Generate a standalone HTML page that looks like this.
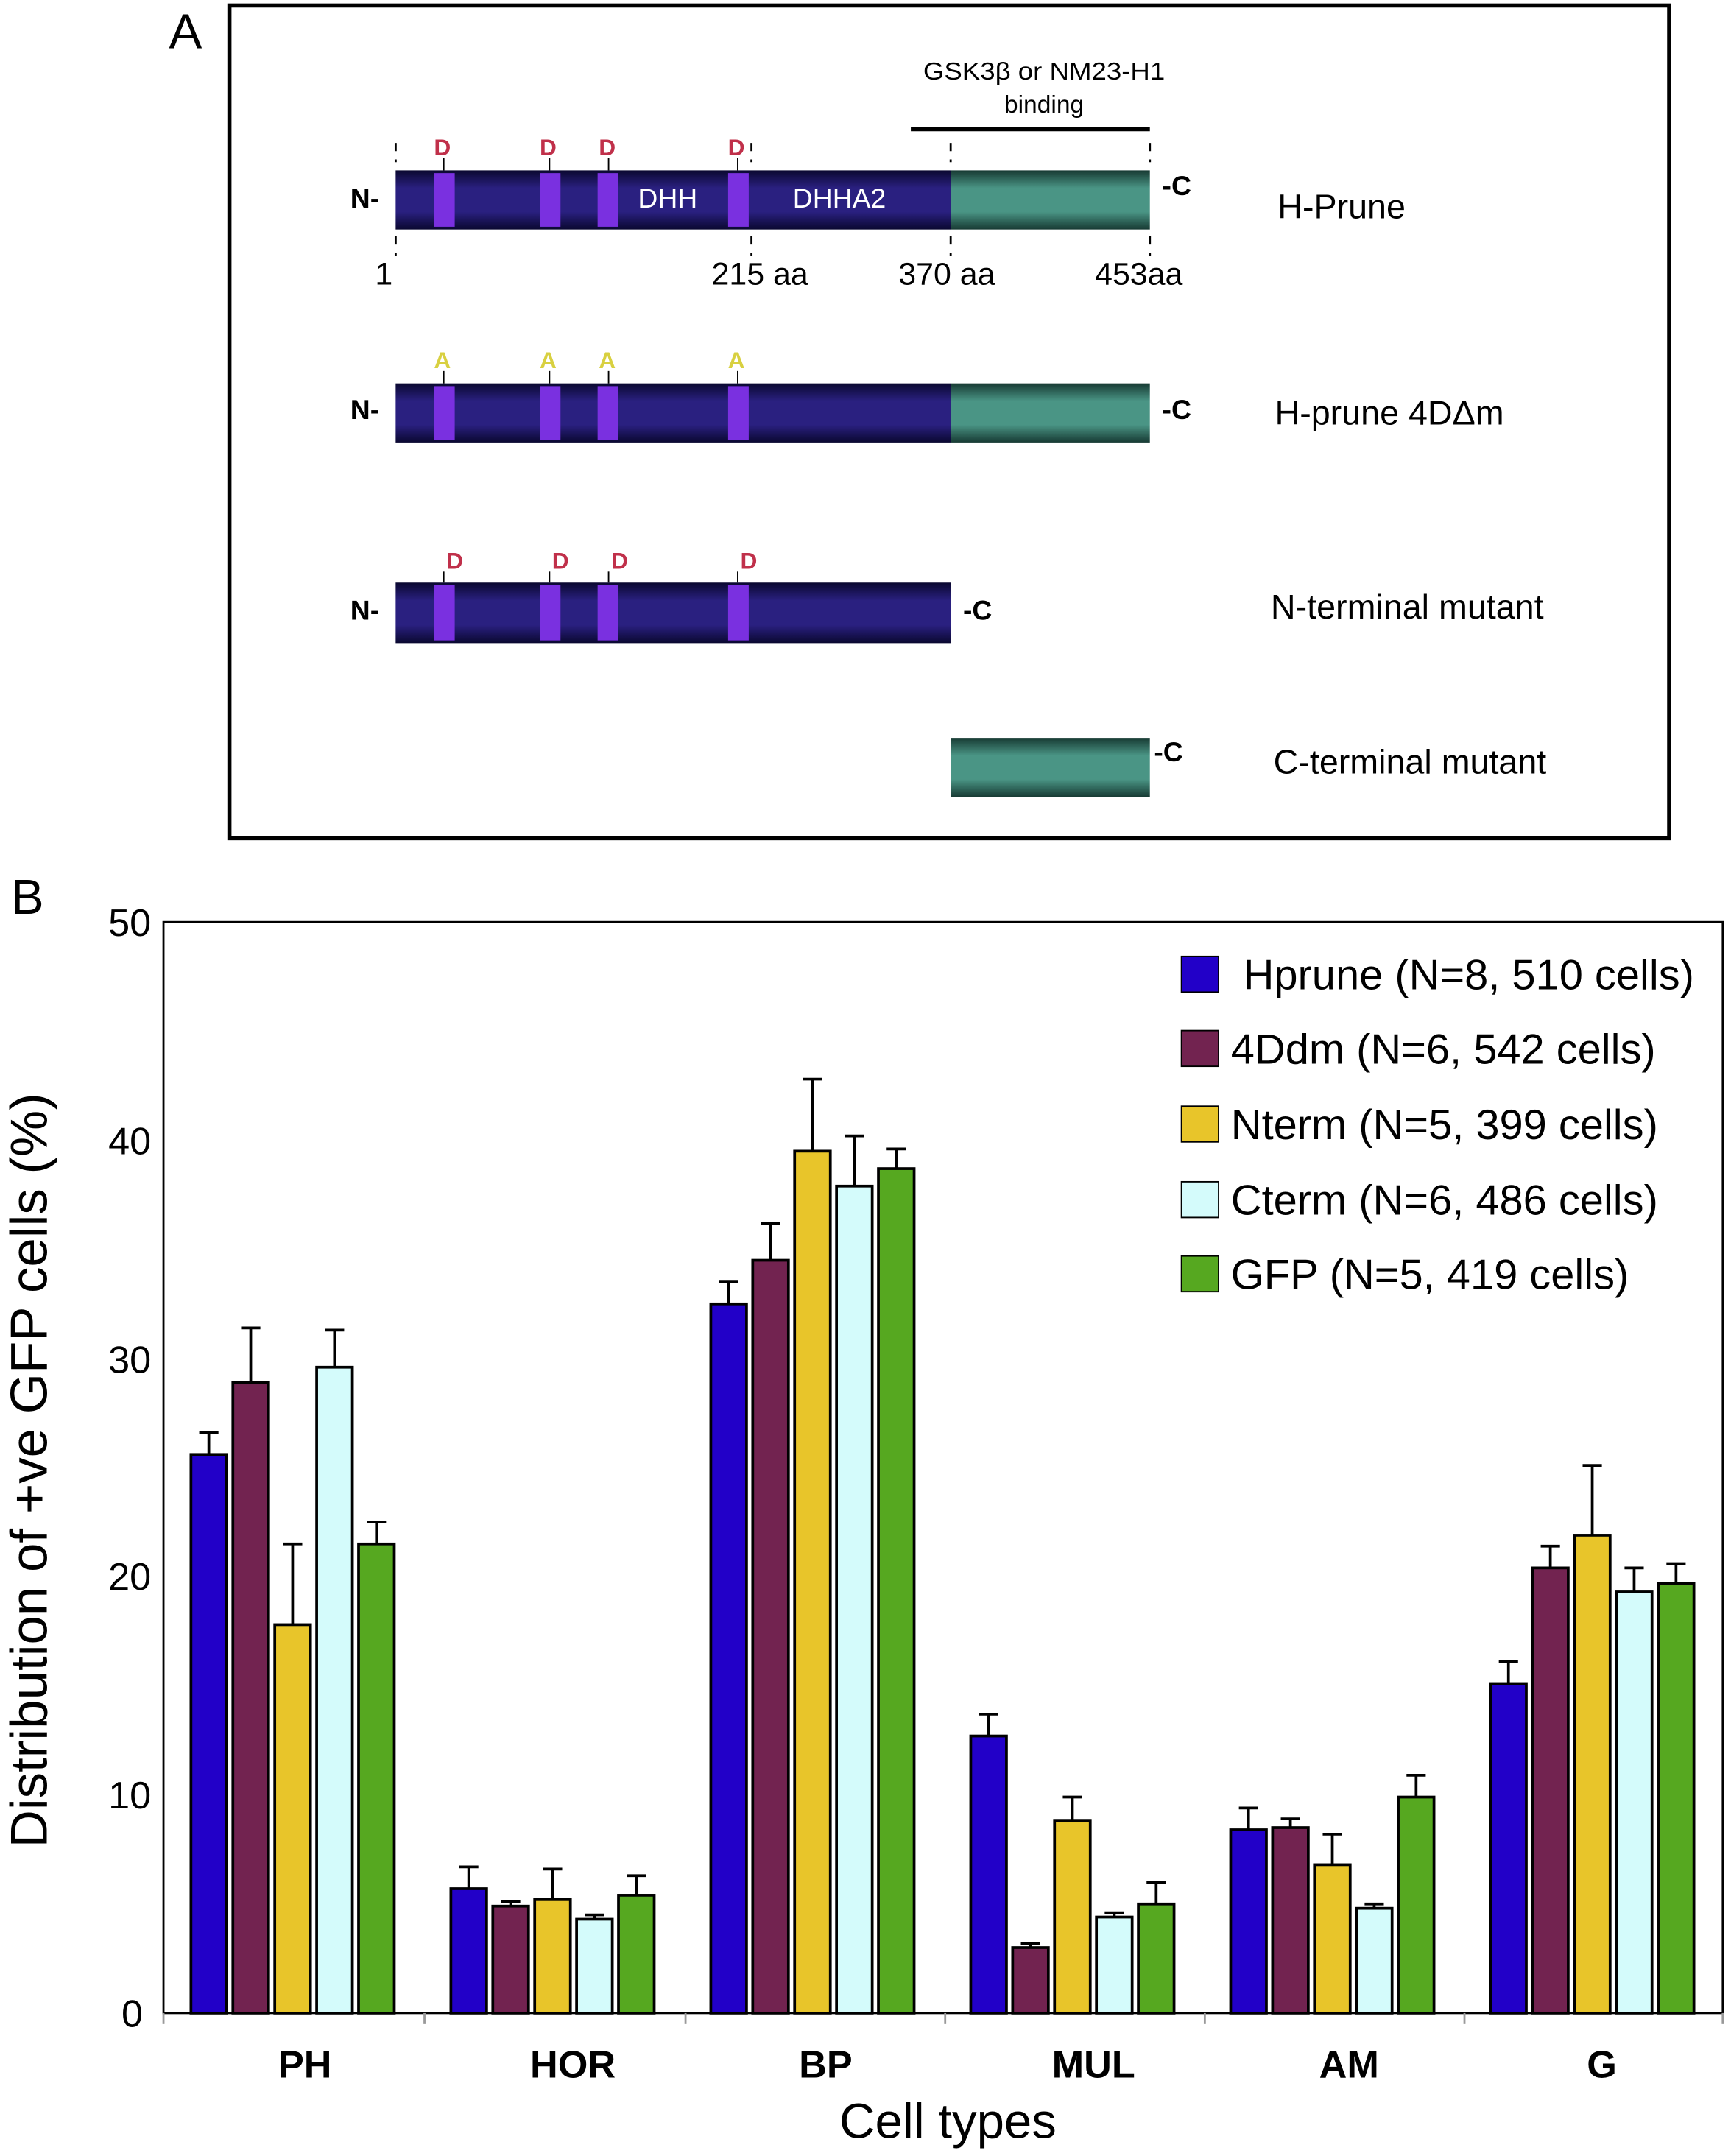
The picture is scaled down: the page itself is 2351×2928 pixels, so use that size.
<!DOCTYPE html>
<html><head><style>html,body{margin:0;padding:0;background:#fff}svg{display:block}</style></head>
<body>
<svg width="2351" height="2928" viewBox="0 0 1260 1569" preserveAspectRatio="none" xmlns="http://www.w3.org/2000/svg" font-family="Liberation Sans, sans-serif">
<defs>
<linearGradient id="bl" x1="0" y1="0" x2="0" y2="1"><stop offset="0" stop-color="#0a0830"/><stop offset="0.3" stop-color="#2a2080"/><stop offset="0.7" stop-color="#2a2080"/><stop offset="1" stop-color="#0a0830"/></linearGradient>
<linearGradient id="te" x1="0" y1="0" x2="0" y2="1"><stop offset="0" stop-color="#173a33"/><stop offset="0.3" stop-color="#4a9585"/><stop offset="0.7" stop-color="#4a9585"/><stop offset="1" stop-color="#173a33"/></linearGradient>
</defs>
<text x="123" y="35" font-size="36">A</text>
<rect x="167" y="4" width="1048" height="606" fill="none" stroke="#000" stroke-width="3"/>
<text x="760" y="58" font-size="18" text-anchor="middle" font-weight="500" textLength="176" lengthAdjust="spacingAndGlyphs">GSK3β or NM23-H1</text>
<text x="760" y="82" font-size="18" text-anchor="middle">binding</text>
<line x1="663" y1="94" x2="837" y2="94" stroke="#000" stroke-width="3"/>
<g stroke="#000" stroke-width="1.5" stroke-dasharray="6,6">
<line x1="288" y1="104" x2="288" y2="118"/><line x1="547" y1="104" x2="547" y2="118"/><line x1="692" y1="104" x2="692" y2="118"/><line x1="837" y1="104" x2="837" y2="118"/>
<line x1="288" y1="172" x2="288" y2="186"/><line x1="547" y1="172" x2="547" y2="186"/><line x1="692" y1="172" x2="692" y2="186"/><line x1="837" y1="172" x2="837" y2="186"/>
</g>
<rect x="288" y="124" width="404" height="43" fill="url(#bl)"/><rect x="692" y="124" width="145" height="43" fill="url(#te)"/>
<g fill="#7a30e0"><rect x="316" y="126" width="15" height="39"/><rect x="393" y="126" width="15" height="39"/><rect x="435" y="126" width="15" height="39"/><rect x="530" y="126" width="15" height="39"/></g>
<g fill="#c0304a" font-size="17" font-weight="bold" text-anchor="middle"><text x="322" y="113">D</text><text x="399" y="113">D</text><text x="442" y="113">D</text><text x="536" y="113">D</text></g>
<g stroke="#000"><line x1="323" y1="115" x2="323" y2="124"/><line x1="400" y1="115" x2="400" y2="124"/><line x1="443" y1="115" x2="443" y2="124"/><line x1="537" y1="115" x2="537" y2="124"/></g>
<text x="486" y="151" font-size="20" fill="#fff" text-anchor="middle">DHH</text>
<text x="611" y="151" font-size="20" fill="#fff" text-anchor="middle">DHHA2</text>
<text x="255" y="151" font-size="20" font-weight="bold">N-</text><text x="846" y="142" font-size="20" font-weight="bold">-C</text>
<g font-size="23"><text x="273" y="207">1</text><text x="518" y="207">215 aa</text><text x="654" y="207">370 aa</text><text x="797" y="207">453aa</text></g>
<g font-size="25" font-weight="500">
<text x="930" y="159">H-Prune</text>
<text x="928" y="309">H-prune 4DΔm</text>
<text x="925" y="450">N-terminal mutant</text>
<text x="927" y="563">C-terminal mutant</text>
</g>
<rect x="288" y="279" width="404" height="43" fill="url(#bl)"/><rect x="692" y="279" width="145" height="43" fill="url(#te)"/>
<g fill="#7a30e0"><rect x="316" y="281" width="15" height="39"/><rect x="393" y="281" width="15" height="39"/><rect x="435" y="281" width="15" height="39"/><rect x="530" y="281" width="15" height="39"/></g>
<g fill="#d8d040" font-size="17" font-weight="bold" text-anchor="middle"><text x="322" y="268">A</text><text x="399" y="268">A</text><text x="442" y="268">A</text><text x="536" y="268">A</text></g>
<g stroke="#000"><line x1="323" y1="270" x2="323" y2="279"/><line x1="400" y1="270" x2="400" y2="279"/><line x1="443" y1="270" x2="443" y2="279"/><line x1="537" y1="270" x2="537" y2="279"/></g>
<text x="255" y="305" font-size="20" font-weight="bold">N-</text><text x="846" y="305" font-size="20" font-weight="bold">-C</text>
<rect x="288" y="424" width="404" height="44" fill="url(#bl)"/>
<g fill="#7a30e0"><rect x="316" y="426" width="15" height="40"/><rect x="393" y="426" width="15" height="40"/><rect x="435" y="426" width="15" height="40"/><rect x="530" y="426" width="15" height="40"/></g>
<g fill="#c0304a" font-size="17" font-weight="bold" text-anchor="middle"><text x="331" y="414">D</text><text x="408" y="414">D</text><text x="451" y="414">D</text><text x="545" y="414">D</text></g>
<g stroke="#000"><line x1="323" y1="416" x2="323" y2="424"/><line x1="400" y1="416" x2="400" y2="424"/><line x1="443" y1="416" x2="443" y2="424"/><line x1="537" y1="416" x2="537" y2="424"/></g>
<text x="255" y="451" font-size="20" font-weight="bold">N-</text><text x="701" y="451" font-size="20" font-weight="bold">-C</text>
<rect x="692" y="537" width="145" height="43" fill="url(#te)"/>
<text x="840" y="554" font-size="20" font-weight="bold">-C</text>

<text x="8" y="665" font-size="36">B</text>
<rect x="119" y="671" width="1135" height="794" fill="none" stroke="#000" stroke-width="1.5"/>
<g font-size="28" text-anchor="end"><text x="110" y="681">50</text><text x="110" y="840">40</text><text x="110" y="999">30</text><text x="110" y="1157">20</text><text x="110" y="1316">10</text><text x="104" y="1475">0</text></g>
<text transform="translate(34,1070) rotate(-90)" font-size="38" text-anchor="middle">Distribution of +ve GFP cells (%)</text>
<g stroke="#999" stroke-width="1.5"><line x1="119" y1="1465" x2="119" y2="1473"/><line x1="309" y1="1465" x2="309" y2="1473"/><line x1="499" y1="1465" x2="499" y2="1473"/><line x1="688" y1="1465" x2="688" y2="1473"/><line x1="877" y1="1465" x2="877" y2="1473"/><line x1="1066" y1="1465" x2="1066" y2="1473"/><line x1="1254" y1="1465" x2="1254" y2="1473"/></g>
<g font-size="28" font-weight="bold" text-anchor="middle"><text x="222" y="1512">PH</text><text x="417" y="1512">HOR</text><text x="601" y="1512">BP</text><text x="796" y="1512">MUL</text><text x="982" y="1512">AM</text><text x="1166" y="1512">G</text></g>
<text x="690" y="1556" font-size="36" text-anchor="middle">Cell types</text>
<g id="bars" stroke="#000" stroke-width="2"></g>
<g font-size="31">
<rect x="860" y="696" width="27" height="26" fill="#2200c8" stroke="#000"/><text x="905" y="720">Hprune (N=8, 510 cells)</text>
<rect x="860" y="750" width="27" height="26" fill="#722350" stroke="#000"/><text x="896" y="774">4Ddm (N=6, 542 cells)</text>
<rect x="860" y="805" width="27" height="26" fill="#e8c52a" stroke="#000"/><text x="896" y="829">Nterm (N=5, 399 cells)</text>
<rect x="860" y="860" width="27" height="26" fill="#d4fbfb" stroke="#000"/><text x="896" y="884">Cterm (N=6, 486 cells)</text>
<rect x="860" y="914" width="27" height="26" fill="#56a820" stroke="#000"/><text x="896" y="938">GFP (N=5, 419 cells)</text>
</g>
</svg>
<script>
var cols=["#2200c8","#722350","#e8c52a","#d4fbfb","#56a820"];
var d=[[[25.6,26.6],[28.9,31.4],[17.8,21.5],[29.6,31.3],[21.5,22.5]],
[[5.7,6.7],[4.9,5.1],[5.2,6.6],[4.3,4.5],[5.4,6.3]],
[[32.5,33.5],[34.5,36.2],[39.5,42.8],[37.9,40.2],[38.7,39.6]],
[[12.7,13.7],[3.0,3.2],[8.8,9.9],[4.4,4.6],[5.0,6.0]],
[[8.4,9.4],[8.5,8.9],[6.8,8.2],[4.8,5.0],[9.9,10.9]],
[[15.1,16.1],[20.4,21.4],[21.9,25.1],[19.3,20.4],[19.7,20.6]]];
var g=document.getElementById("bars"),s="";
function Y(v){return 1465-v*15.88;}
for(var i=0;i<6;i++){var gs=119+i*189.2;for(var j=0;j<5;j++){var x=gs+20+j*30.5,w=26,v=d[i][j];
s+='<rect x="'+x+'" y="'+Y(v[0])+'" width="'+w+'" height="'+(1465-Y(v[0]))+'" fill="'+cols[j]+'"/>';
var cx=x+w/2;s+='<line x1="'+cx+'" y1="'+Y(v[0])+'" x2="'+cx+'" y2="'+Y(v[1])+'"/><line x1="'+(cx-7)+'" y1="'+Y(v[1])+'" x2="'+(cx+7)+'" y2="'+Y(v[1])+'"/>';}}
g.innerHTML=s;
</script>
</body></html>
